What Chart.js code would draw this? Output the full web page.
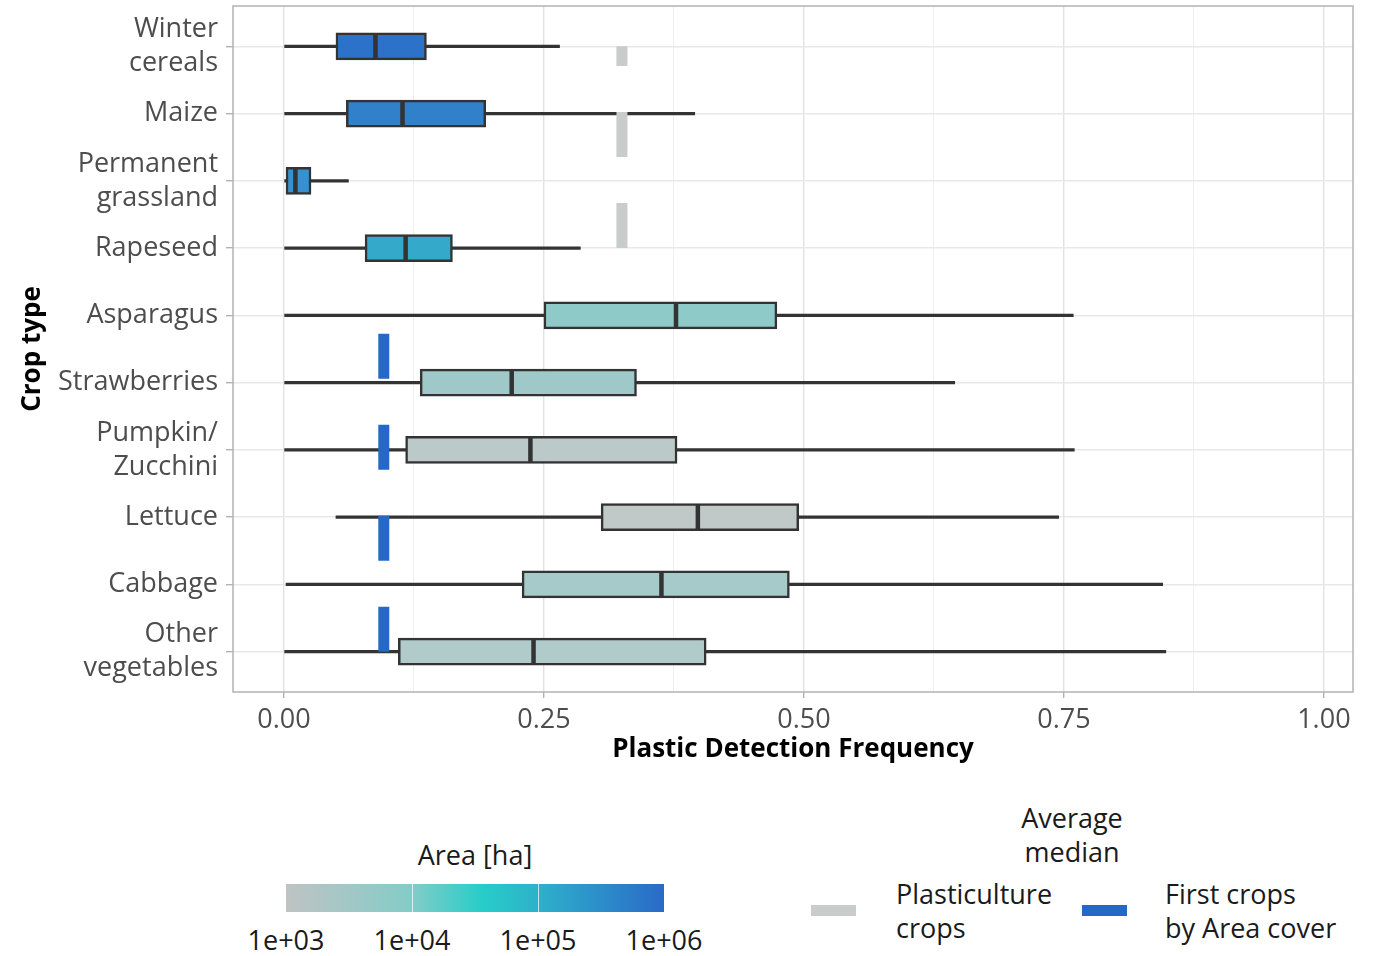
<!DOCTYPE html>
<html>
<head>
<meta charset="utf-8">
<script src="https://cdn.jsdelivr.net/npm/chart.js@4.4.1/dist/chart.umd.min.js"></script>
<style>
  body { margin: 0; background: #fff; font-family: 'Open Sans', sans-serif; color: #1a1a1a; }
  #wrap { position: relative; width: 1382px; height: 956px; }
  #chart { position: absolute; left: 0; top: 0; }
  .lg { position: absolute; font-size: 27px; line-height: 34px; white-space: nowrap; }
  .c { transform: translate(-50%, -50%); text-align: center; }
  #bar { position: absolute; left: 286px; top: 884px; width: 378px; height: 28px;
         background: linear-gradient(to right, #bfc3c3 0%, #84ccc8 33%, #26cdc8 52%, #2eb0cb 67%, #2a6ac8 100%); }
  .tk { position: absolute; top: 0; width: 1px; height: 28px; background: rgba(255,255,255,0.7); }
  .key { position: absolute; top: 905px; width: 45px; height: 11px; }
</style>
</head>
<body>
<div id="wrap">
  <canvas id="chart" width="1382" height="780"></canvas>

  <div class="lg c" style="left:475px; top:855px;">Area [ha]</div>
  <div id="bar"></div>
  <div id="barTicks"></div>

  <div class="lg c" style="left:1072px; top:835px;">Average<br>median</div>
  <div class="key" style="left:811px; background:#c8cccb;"></div>
  <div class="lg" style="left:896px; top:877px;">Plasticulture<br>crops</div>
  <div class="key" style="left:1082px; background:#2468c8;"></div>
  <div class="lg" style="left:1165px; top:877px;">First crops<br>by Area cover</div>
</div>

<script>
// --- crop types (top to bottom) ---
const cropTypes = [
    ["Winter", "cereals"], "Maize", ["Permanent", "grassland"], "Rapeseed",
    "Asparagus", "Strawberries", ["Pumpkin/", "Zucchini"], "Lettuce",
    "Cabbage", ["Other", "vegetables"]
];

// --- box plot stats (plastic detection frequency) ---
const whiskerLow  = [0.000, 0.000, 0.000, 0.000, 0.000, 0.000, 0.000, 0.050, 0.002, 0.000];
const quartile1   = [0.050, 0.060, 0.002, 0.078, 0.250, 0.131, 0.117, 0.305, 0.229, 0.110];
const medians     = [0.088, 0.114, 0.011, 0.117, 0.377, 0.219, 0.237, 0.398, 0.363, 0.240];
const quartile3   = [0.137, 0.194, 0.026, 0.162, 0.474, 0.339, 0.378, 0.495, 0.486, 0.406];
const whiskerHigh = [0.265, 0.395, 0.062, 0.285, 0.759, 0.645, 0.760, 0.745, 0.845, 0.848];

// box fill follows area cover
const boxFill = ["#2b72c8", "#3181ca", "#3591cf", "#35a9c9", "#8ecac8",
                 "#9ec9c8", "#bbc9c8", "#c1c9c8", "#a5cac9", "#b1caca"];

// --- average medians: value, and the rows the marker spans (drawn bottom -> top) ---
const plasticultureAvg = 0.325;
const plasticultureRows = [3, 0];
const firstCropsAvg = 0.096;
const firstCropsRows = [9, 4];

// --- colour bar ticks ---
const areaTicks = ["1e+03", "1e+04", "1e+05", "1e+06"];

// colour bar labels and tick marks
const barTicks = document.getElementById("barTicks");
areaTicks.forEach((t, i) => {
    const x = 286 + i * 126;
    const lab = document.createElement("div");
    lab.className = "lg c";
    lab.style.left = x + "px";
    lab.style.top = "940px";
    lab.textContent = t;
    barTicks.appendChild(lab);
    if (i > 0 && i < areaTicks.length - 1) {
        const m = document.createElement("div");
        m.className = "tk";
        m.style.left = (x - 286) + "px";
        document.getElementById("bar").appendChild(m);
    }
});

Chart.defaults.font.family = "'Open Sans', sans-serif";

const panelBorder = {
    id: "panelBorder",
    afterDraw(chart) {
        const a = chart.chartArea, ctx = chart.ctx;
        ctx.save();
        ctx.strokeStyle = "#b3b3b3";
        ctx.lineWidth = 1.5;
        ctx.strokeRect(a.left, a.top, a.right - a.left, a.bottom - a.top);
        ctx.restore();
    }
};

const isMajor = v => Math.abs(v * 4 - Math.round(v * 4)) < 1e-9;

// the panel is placed by hand, so drop the label overhang padding
const noOverhang = s => { s.paddingTop = 0; s.paddingBottom = 0; s.paddingLeft = 0; s.paddingRight = 0; };

new Chart(document.getElementById("chart"), {
    type: "bar",
    data: {
        datasets: [
            {
                label: "whiskers",
                data: cropTypes.map((c, i) => ({ x: [whiskerLow[i], whiskerHigh[i]], y: i })),
                backgroundColor: "#333333",
                barThickness: 2.5,
                grouped: false,
                order: 4
            },
            {
                label: "boxes",
                data: cropTypes.map((c, i) => ({ x: [quartile1[i], quartile3[i]], y: i })),
                backgroundColor: boxFill,
                borderColor: "#333333",
                borderWidth: 2.5,
                borderSkipped: false,
                barThickness: 27,
                grouped: false,
                order: 3
            },
            {
                type: "line",
                label: "medians",
                data: cropTypes.map((c, i) => ({ x: medians[i], y: i })),
                showLine: false,
                pointStyle: "line",
                pointRotation: 90,
                pointRadius: 13,
                pointBorderWidth: 4.5,
                pointBorderColor: "#333333",
                order: 2
            },
            {
                type: "line",
                label: "Plasticulture crops",
                data: plasticultureRows.map(r => ({ x: plasticultureAvg, y: r })),
                borderColor: "#c8cccb",
                borderWidth: 11,
                borderDash: [45, 46],
                borderCapStyle: "butt",
                pointRadius: 0,
                order: 1
            },
            {
                type: "line",
                label: "First crops by Area cover",
                data: firstCropsRows.map(r => ({ x: firstCropsAvg, y: r })),
                borderColor: "#2468c8",
                borderWidth: 11,
                borderDash: [45, 46],
                borderCapStyle: "butt",
                pointRadius: 0,
                order: 1
            }
        ]
    },
    options: {
        indexAxis: "y",
        responsive: false,
        animation: false,
        devicePixelRatio: 1,
        layout: { autoPadding: false, padding: { top: 6, right: 29, left: 0, bottom: 0 } },
        plugins: { legend: { display: false }, tooltip: { enabled: false } },
        scales: {
            x: {
                type: "linear",
                min: -0.049,
                max: 1.028,
                offset: false,
                afterFit: s => { s.height = 88; noOverhang(s); },
                border: { display: false },
                grid: {
                    color: c => isMajor(c.tick.value) ? "#e2e2e2" : "#efefef",
                    lineWidth: c => isMajor(c.tick.value) ? 1.4 : 1,
                    tickColor: c => isMajor(c.tick.value) ? "#b3b3b3" : "rgba(0,0,0,0)",
                    tickLength: 6
                },
                ticks: {
                    stepSize: 0.125,
                    includeBounds: false,
                    autoSkip: false,
                    maxRotation: 0,
                    padding: 6,
                    color: "#4d4d4d",
                    font: { size: 27 },
                    callback: v => isMajor(v) ? v.toFixed(2) : ""
                },
                title: {
                    display: true,
                    text: "Plastic Detection Frequency",
                    color: "#000000",
                    font: { size: 26, weight: "bold" },
                    padding: { top: 0, bottom: 14.4 }
                }
            },
            y: {
                type: "linear",
                reverse: true,
                min: -0.6,
                max: 9.6,
                offset: false,
                afterFit: s => { s.width = 233; noOverhang(s); },
                border: { display: false },
                grid: {
                    offset: false,
                    color: "#e8e8e8",
                    lineWidth: 1.4,
                    tickColor: "#b3b3b3",
                    tickLength: 7
                },
                ticks: {
                    stepSize: 1,
                    includeBounds: false,
                    autoSkip: false,
                    padding: 8,
                    color: "#4d4d4d",
                    font: { size: 27, lineHeight: 1.26 },
                    callback: v => cropTypes[v]
                },
                title: {
                    display: true,
                    text: "Crop type",
                    color: "#000000",
                    font: { size: 26, weight: "bold" },
                    padding: { top: 17, bottom: 0 }
                }
            }
        }
    },
    plugins: [panelBorder]
});
</script>
</body>
</html>
